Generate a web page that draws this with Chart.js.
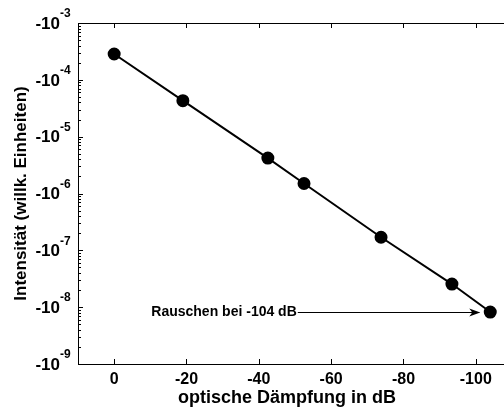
<!DOCTYPE html>
<html>
<head>
<meta charset="utf-8">
<script src="https://cdn.jsdelivr.net/npm/chart.js@4/dist/chart.umd.min.js"></script>
<style>
  html, body { margin: 0; padding: 0; background: #fff; }
  #wrap { width: 504px; height: 410px; }
</style>
</head>
<body>
<div id="wrap"><canvas id="grafica" width="504" height="410"></canvas></div>
<script>
// Messwerte: optische Daempfung (dB) und Intensitaet (Betrag, willk. Einheiten)
const daempfung = [0, -19, -42.5, -52.5, -73.8, -93.4, -104];
const intensitaet = [2.85e-4, 4.3e-5, 4.2e-6, 1.5e-6, 1.7e-7, 2.55e-8, 8.2e-9];

const xTicks = [0, -20, -40, -60, -80, -100];
const yExponents = [-3, -4, -5, -6, -7, -8, -9];

const FONT = '"Liberation Sans", Arial, sans-serif';

const graph = document.querySelector('#grafica');

// Rahmen, Ticks nach innen, Beschriftungen mit Hochzahl, Pfeil
const achsen = {
    id: 'achsen',
    afterDraw(chart) {
        const ctx = chart.ctx;
        const a = chart.chartArea;
        const xs = chart.scales.x;
        const ys = chart.scales.y;
        ctx.save();
        ctx.strokeStyle = '#000';
        ctx.lineWidth = 1;

        // obere Rahmenlinie
        ctx.beginPath();
        ctx.moveTo(a.left, a.top + 0.5);
        ctx.lineTo(a.right, a.top + 0.5);
        ctx.stroke();

        // x-Ticks oben und unten
        ctx.beginPath();
        xTicks.forEach(v => {
            const px = Math.round(xs.getPixelForValue(v)) + 0.5;
            ctx.moveTo(px, a.bottom);
            ctx.lineTo(px, a.bottom - 5);
            ctx.moveTo(px, a.top);
            ctx.lineTo(px, a.top + 5);
        });
        // y-Ticks (Dekaden lang, Zwischenwerte kurz)
        yExponents.forEach(e => {
            const py = Math.round(ys.getPixelForValue(Math.pow(10, e))) + 0.5;
            ctx.moveTo(a.left, py);
            ctx.lineTo(a.left + 5, py);
            if (e > -3) return;
            for (let m = 2; m <= 9; m++) {
                const v = m * Math.pow(10, e);
                if (v > 1e-3) break;
                const pm = Math.round(ys.getPixelForValue(v)) + 0.5;
                ctx.moveTo(a.left, pm);
                ctx.lineTo(a.left + 3, pm);
            }
        });
        ctx.stroke();

        ctx.fillStyle = '#000';
        ctx.textBaseline = 'middle';

        // y-Beschriftung -10^n
        yExponents.forEach(e => {
            const py = ys.getPixelForValue(Math.pow(10, e));
            ctx.font = 'bold 17px ' + FONT;
            ctx.textAlign = 'right';
            ctx.fillText('-10', 60, py + 1);
            ctx.font = 'bold 12px ' + FONT;
            ctx.textAlign = 'left';
            ctx.fillText(String(e), 60, py - 9);
        });

        // x-Beschriftung
        ctx.font = 'bold 16px ' + FONT;
        ctx.textAlign = 'center';
        xTicks.forEach(v => {
            ctx.fillText(String(v), xs.getPixelForValue(v), a.bottom + 16);
        });

        // Achsentitel
        ctx.font = 'bold 18px ' + FONT;
        ctx.fillText('optische Dämpfung in dB', 287, a.bottom + 34);
        ctx.font = 'bold 17px ' + FONT;
        ctx.save();
        ctx.translate(21, (a.top + a.bottom) / 2);
        ctx.rotate(-Math.PI / 2);
        ctx.fillText('Intensität (willk. Einheiten)', 0, 0);
        ctx.restore();

        // Annotation mit Pfeil auf den letzten Punkt
        const n = daempfung.length - 1;
        const tx = xs.getPixelForValue(daempfung[n]);
        const ty = ys.getPixelForValue(intensitaet[n]);
        const x0 = xs.getPixelForValue(-50.5);
        ctx.font = 'bold 14px ' + FONT;
        ctx.textAlign = 'right';
        ctx.fillText('Rauschen bei -104 dB', x0, ty);
        const ax = tx - 11;
        ctx.beginPath();
        ctx.moveTo(x0 + 1, Math.round(ty) + 0.5);
        ctx.lineTo(ax, Math.round(ty) + 0.5);
        ctx.stroke();
        ctx.beginPath();
        ctx.moveTo(ax + 1, ty + 0.5);
        ctx.lineTo(ax - 10, ty - 3.5);
        ctx.lineTo(ax - 7, ty + 0.5);
        ctx.lineTo(ax - 10, ty + 4.5);
        ctx.closePath();
        ctx.fill();
        ctx.restore();
    }
};

new Chart(graph, {
    type: 'scatter',
    data: {
        datasets: [{
            data: daempfung.map((x, i) => ({ x: x, y: intensitaet[i] })),
            showLine: true,
            borderColor: '#000',
            borderWidth: 2,
            backgroundColor: '#000',
            pointRadius: 5.5,
            pointHoverRadius: 5.5,
            clip: false
        }]
    },
    options: {
        responsive: false,
        animation: false,
        layout: { autoPadding: false, padding: { left: 78, top: 23, right: 0, bottom: 46 } },
        plugins: { legend: { display: false }, tooltip: { enabled: false } },
        scales: {
            x: {
                type: 'linear',
                reverse: true,
                min: -107.8,
                max: 10,
                grid: { display: false, drawTicks: false },
                border: { display: true, color: '#000', width: 1 },
                ticks: { display: false }
            },
            y: {
                type: 'logarithmic',
                min: 1e-9,
                max: 1e-3,
                grid: { display: false, drawTicks: false },
                border: { display: true, color: '#000', width: 1 },
                ticks: { display: false }
            }
        }
    },
    plugins: [achsen]
});
</script>
</body>
</html>
